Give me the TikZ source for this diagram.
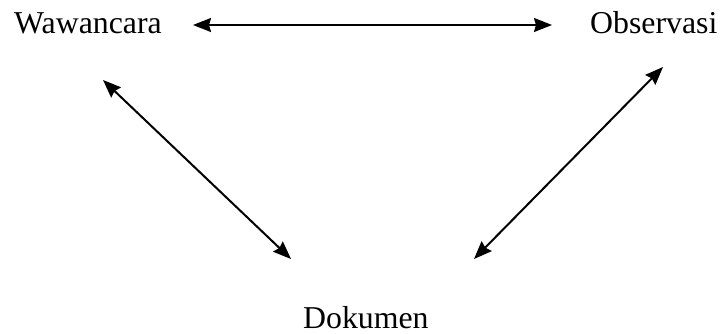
\documentclass[tikz,border=0pt]{standalone}
\usepackage{fontspec}
\setmainfont{Liberation Serif}
\usetikzlibrary{arrows.meta}
\begin{document}
\begin{tikzpicture}[x=1pt,y=-1pt,
  lbl/.style={anchor=base west,inner sep=0pt,font=\fontsize{31.8}{38}\selectfont},
  tip/.style={Stealth[length=18pt,width=14pt,inset=2pt]},
  link/.style={line width=2pt,{Stealth[length=18pt,width=14pt,inset=2pt]}-{Stealth[length=18pt,width=14pt,inset=2pt]}}]
\useasboundingbox (0,0) rectangle (723,334);
\node[lbl] (waw) at (14,34) {Wawancara};
\node[lbl] (obs) at (590,34) {Observasi};
\node[lbl] (dok) at (303,328) {Dokumen};
\coordinate (h1) at (193,25);
\coordinate (h2) at (552,25);
\coordinate (l1) at (103,80);
\coordinate (l2) at (291,259);
\coordinate (r1) at (663,67);
\coordinate (r2) at (474,259);
\draw[link] (h1) -- (h2);
\draw[link] (l1) -- (l2);
\draw[link] (r1) -- (r2);
\end{tikzpicture}
\end{document}
